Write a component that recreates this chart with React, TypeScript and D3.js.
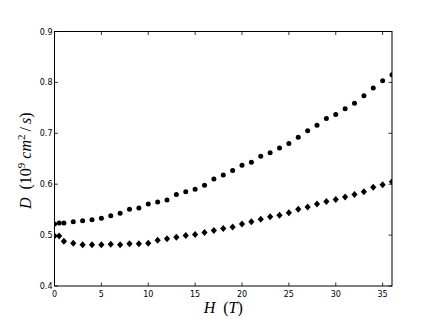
import React, { useEffect, useRef } from 'react'
import * as d3 from 'd3'

// field values H (T)
const fieldH = [0, 0.5, 1, 2, 3, 4, 5, 6, 7, 8, 9, 10, 11, 12, 13, 14, 15, 16, 17, 18, 19, 20, 21, 22, 23, 24, 25, 26, 27, 28, 29, 30, 31, 32, 33, 34, 35, 36]

// circles (upper series)
const circleD = [0.522, 0.524, 0.524, 0.526, 0.528, 0.530, 0.533, 0.538, 0.543, 0.551, 0.553, 0.561, 0.565, 0.569, 0.580, 0.585, 0.590, 0.598, 0.610, 0.618, 0.627, 0.637, 0.643, 0.655, 0.662, 0.671, 0.680, 0.692, 0.705, 0.716, 0.729, 0.737, 0.748, 0.759, 0.774, 0.789, 0.803, 0.815]

// diamonds (lower series)
const diamondD = [0.498, 0.498, 0.488, 0.484, 0.481, 0.481, 0.481, 0.482, 0.481, 0.483, 0.483, 0.484, 0.490, 0.493, 0.496, 0.499, 0.501, 0.505, 0.509, 0.513, 0.516, 0.522, 0.526, 0.531, 0.536, 0.539, 0.544, 0.551, 0.555, 0.561, 0.566, 0.570, 0.575, 0.580, 0.585, 0.594, 0.599, 0.605]

const xTicks = [0, 5, 10, 15, 20, 25, 30, 35]
const yTicks = [0.4, 0.5, 0.6, 0.7, 0.8, 0.9]

function drawChart(svgEl: SVGSVGElement) {
    const svg = d3.select(svgEl)
    svg.selectAll('*').remove()

    const left = 54.5, right = 392, top = 31.5, bottom = 286

    const x = d3.scaleLinear().domain([0, 36]).range([left, right])
    const y = d3.scaleLinear().domain([0.4, 0.9]).range([bottom, top])

    svg.append('defs').append('clipPath').attr('id', 'plotclip')
        .append('rect')
        .attr('x', left).attr('y', top)
        .attr('width', right - left).attr('height', bottom - top)

    const plot = svg.append('g').attr('clip-path', 'url(#plotclip)')

    plot.selectAll('circle.c')
        .data(fieldH)
        .enter()
        .append('circle')
        .attr('class', 'c')
        .attr('cx', d => x(d))
        .attr('cy', (d, i) => y(circleD[i]))
        .attr('r', 2.5)
        .attr('fill', 'black')

    // near-square diamond like matplotlib 'D'
    const dw = 3.1, dh = 3.5
    const diamondPath = `M0,${-dh}L${dw},0L0,${dh}L${-dw},0Z`
    plot.selectAll('path.dm')
        .data(fieldH)
        .enter()
        .append('path')
        .attr('class', 'dm')
        .attr('d', diamondPath)
        .attr('transform', (d, i) => `translate(${x(d)},${y(diamondD[i])})`)
        .attr('fill', 'black')

    // frame
    svg.append('rect')
        .attr('x', left).attr('y', top)
        .attr('width', right - left).attr('height', bottom - top)
        .attr('fill', 'none')
        .attr('stroke', 'black')
        .attr('stroke-width', 1)

    const tickLen = 3.5
    const tickFont = 'DejaVu Sans'

    // x ticks (bottom and top, inward)
    xTicks.forEach(t => {
        svg.append('line')
            .attr('x1', x(t)).attr('x2', x(t))
            .attr('y1', bottom).attr('y2', bottom - tickLen)
            .attr('stroke', 'black').attr('stroke-width', 0.8)
        svg.append('line')
            .attr('x1', x(t)).attr('x2', x(t))
            .attr('y1', top).attr('y2', top + tickLen)
            .attr('stroke', 'black').attr('stroke-width', 0.8)
        svg.append('text')
            .attr('x', x(t)).attr('y', bottom + 11)
            .attr('text-anchor', 'middle')
            .attr('font-family', tickFont)
            .attr('font-size', 8)
            .text(t)
    })

    yTicks.forEach(t => {
        svg.append('line')
            .attr('x1', left).attr('x2', left + tickLen)
            .attr('y1', y(t)).attr('y2', y(t))
            .attr('stroke', 'black').attr('stroke-width', 0.8)
        svg.append('line')
            .attr('x1', right).attr('x2', right - tickLen)
            .attr('y1', y(t)).attr('y2', y(t))
            .attr('stroke', 'black').attr('stroke-width', 0.8)
        svg.append('text')
            .attr('x', left - 2).attr('y', y(t) + 3)
            .attr('text-anchor', 'end')
            .attr('font-family', tickFont)
            .attr('font-size', 8)
            .text(d3.format('.1f')(t))
    })

    // x label
    const xl = svg.append('text')
        .attr('x', (left + right) / 2).attr('y', 313)
        .attr('text-anchor', 'middle')
        .attr('font-family', 'Liberation Serif')
        .attr('font-size', 16)
    xl.append('tspan').attr('font-style', 'italic').text('H')
    xl.append('tspan').text('\u2002(')
    xl.append('tspan').attr('font-style', 'italic').text('T')
    xl.append('tspan').text(')')

    // y label
    const yl = svg.append('text')
        .attr('transform', `translate(31,${(top + bottom) / 2 + 2}) rotate(-90)`)
        .attr('text-anchor', 'middle')
        .attr('font-family', 'Liberation Serif')
        .attr('font-size', 16)
    yl.append('tspan').attr('font-style', 'italic').text('D')
    yl.append('tspan').text('\u2002(10')
    yl.append('tspan').attr('font-size', 11).attr('dy', -6).text('9')
    yl.append('tspan').attr('font-style', 'italic').attr('dy', 6).attr('dx', 4).text('cm')
    yl.append('tspan').attr('font-size', 11).attr('dy', -6).text('2')
    yl.append('tspan').attr('dy', 6).attr('dx', 3).text('/')
    yl.append('tspan').attr('font-style', 'italic').attr('dx', 3).text('s')
    yl.append('tspan').text(')')
}

export default function App() {
    const ref = useRef<SVGSVGElement>(null)

    useEffect(() => {
        if (ref.current) drawChart(ref.current)
    }, [])

    return (
        <svg ref={ref} width={436} height={319}
            style={{ position: 'absolute', left: 0, top: 0, background: 'white' }} />
    )
}
